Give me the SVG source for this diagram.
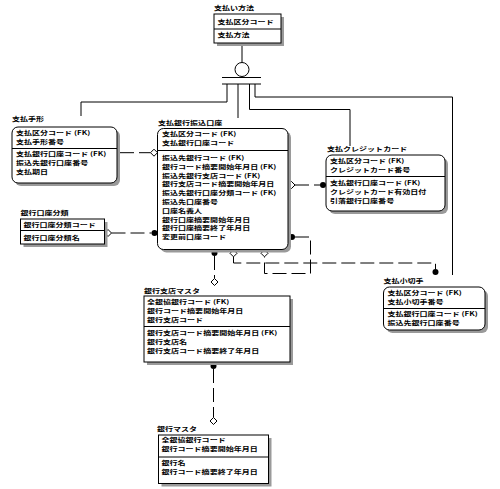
<svg xmlns="http://www.w3.org/2000/svg" width="500" height="489" viewBox="0 0 500 489">
<style>
.t{font-family:"Noto Sans CJK JP","Noto Sans CJK SC",sans-serif;font-size:6px;font-weight:bold;fill:#000;transform-box:fill-box;transform-origin:0 0;transform:scaleX(1.34)}
.bx{fill:#fff;stroke:#000;stroke-width:1}
.sh{fill:#9a9a9a}
.dv{stroke:#000;stroke-width:1}
.ln{fill:none;stroke:#000;stroke-width:1}
.dl{fill:none;stroke:#000;stroke-width:1;stroke-dasharray:14 5}
.dot{fill:#000}
.dia{fill:#fff;stroke:#000;stroke-width:1}
</style>
<rect width="500" height="489" fill="#fff"/>
<g id="connectors">
  <line class="ln" x1="242" y1="43" x2="242" y2="62.5"/>
  <circle class="dia" cx="242" cy="69.5" r="7"/>
  <line class="ln" x1="222" y1="77.5" x2="261" y2="77.5"/>
  <line class="ln" x1="222" y1="84" x2="261" y2="84"/>
  <polyline class="ln" points="227,84 227,102 81,102 81,116"/>
  <line class="ln" x1="238" y1="84" x2="238" y2="118"/>
  <polyline class="ln" points="249.5,84 249.5,109.5 350,109.5 350,146"/>
  <polyline class="ln" points="255,84 255,97 452.5,97 452.5,275"/>

  <line class="dl" x1="120" y1="152.7" x2="150.5" y2="152.7"/>
  <circle class="dot" cx="116.5" cy="152.7" r="3"/>
  <path class="dia" d="M150.5,152.7 L154,149.2 L157.5,152.7 L154,156.2 Z"/>

  <line class="dl" x1="111.5" y1="233" x2="151.5" y2="233"/>
  <path class="dia" d="M104.5,233 L108,229.5 L111.5,233 L108,236.5 Z"/>
  <circle class="dot" cx="154.5" cy="233" r="3"/>

  <line class="dl" x1="295" y1="185" x2="320" y2="185"/>
  <path class="dia" d="M288,185 L291.5,181.5 L295,185 L291.5,188.5 Z"/>
  <circle class="dot" cx="323" cy="185" r="3"/>

  <polyline class="dl" points="295,237 310.5,237 310.5,273.5 264.5,273.5 264.5,257"/>
  <circle class="dot" cx="292" cy="237" r="3"/>
  <path class="dia" d="M261,253.3 L264.5,249.8 L268,253.3 L264.5,256.8 Z"/>

  <polyline class="dl" points="233.5,256.8 233.5,263 435.5,263 435.5,269"/>
  <path class="dia" d="M230,253.3 L233.5,249.8 L237,253.3 L233.5,256.8 Z"/>
  <circle class="dot" cx="435.5" cy="272" r="3"/>

  <line class="dl" x1="214.5" y1="256" x2="214.5" y2="278.5"/>
  <circle class="dot" cx="214.5" cy="253" r="3"/>
  <path class="dia" d="M211,282 L214.5,278.5 L218,282 L214.5,285.5 Z"/>

  <line class="dl" x1="213.5" y1="369" x2="213.5" y2="417.5"/>
  <circle class="dot" cx="213.5" cy="366" r="3"/>
  <path class="dia" d="M210,421 L213.5,417.5 L217,421 L213.5,424.5 Z"/>
</g>

<g id="shiharai-houhou">
  <text class="t" x="214" y="10">支払い方法</text>
  <rect class="sh" x="217" y="17" width="67" height="29"/>
  <rect class="bx" x="214" y="14" width="67" height="29"/>
  <line class="dv" x1="214" y1="29" x2="281" y2="29"/>
  <text class="t" x="217.5" y="24.5">支払区分コード</text>
  <text class="t" x="217.5" y="37.5">支払方法</text>
</g>

<g id="shiharai-tegata">
  <text class="t" x="12" y="121.5">支払手形</text>
  <rect class="sh" x="15" y="130" width="105" height="56" rx="6"/>
  <rect class="bx" x="12" y="127" width="105" height="56" rx="6"/>
  <line class="dv" x1="12" y1="148.5" x2="117" y2="148.5"/>
  <text class="t" x="16" y="135">支払区分コード (FK)</text>
  <text class="t" x="16" y="143.8">支払手形番号</text>
  <text class="t" x="16" y="156.5">支払銀行口座コード (FK)</text>
  <text class="t" x="16" y="165.3">振込先銀行口座番号</text>
  <text class="t" x="16" y="174.1">支払期日</text>
</g>

<g id="shiharai-ginko-furikomi-koza">
  <text class="t" x="158" y="125">支払銀行振込口座</text>
  <rect class="sh" x="160.5" y="131.5" width="130.5" height="121" rx="6"/>
  <rect class="bx" x="157.5" y="128.5" width="130.5" height="121" rx="6"/>
  <line class="dv" x1="157.5" y1="150.5" x2="288" y2="150.5" stroke-width="1.6"/>
  <text class="t" x="162" y="135.8">支払区分コード (FK)</text>
  <text class="t" x="162" y="144.6">支払銀行口座コード</text>
  <text class="t" x="162" y="160">振込先銀行コード (FK)</text>
  <text class="t" x="162" y="168.8">銀行コード摘要開始年月日 (FK)</text>
  <text class="t" x="162" y="177.6">振込先銀行支店コード (FK)</text>
  <text class="t" x="162" y="186.4">銀行支店コード摘要開始年月日</text>
  <text class="t" x="162" y="195.2">振込先銀行口座分類コード (FK)</text>
  <text class="t" x="162" y="204">振込先口座番号</text>
  <text class="t" x="162" y="212.8">口座名義人</text>
  <text class="t" x="162" y="221.6">銀行口座摘要開始年月日</text>
  <text class="t" x="162" y="230.4">銀行口座摘要終了年月日</text>
  <text class="t" x="162" y="239.2">変更前口座コード</text>
</g>

<g id="shiharai-credit-card">
  <text class="t" x="327" y="151.5">支払クレジットカード</text>
  <rect class="sh" x="329" y="158" width="119" height="56" rx="6"/>
  <rect class="bx" x="326" y="155" width="119" height="56" rx="6"/>
  <line class="dv" x1="326" y1="176.5" x2="445" y2="176.5"/>
  <text class="t" x="330" y="163">支払区分コード (FK)</text>
  <text class="t" x="330" y="171.8">クレジットカード番号</text>
  <text class="t" x="330" y="185.5">支払銀行口座コード (FK)</text>
  <text class="t" x="330" y="194.3">クレジットカード有効日付</text>
  <text class="t" x="330" y="203.1">引落銀行口座番号</text>
</g>

<g id="ginko-koza-bunrui">
  <text class="t" x="20.5" y="215">銀行口座分類</text>
  <rect class="sh" x="23.5" y="222" width="84" height="25"/>
  <rect class="bx" x="20.5" y="219" width="84" height="25"/>
  <line class="dv" x1="20.5" y1="230.5" x2="104.5" y2="230.5"/>
  <text class="t" x="23.5" y="227.5">銀行口座分類コード</text>
  <text class="t" x="23.5" y="240.5">銀行口座分類名</text>
</g>

<g id="shiharai-kogitte">
  <text class="t" x="383.5" y="283">支払小切手</text>
  <rect class="sh" x="386.5" y="290" width="101.5" height="43" rx="6"/>
  <rect class="bx" x="383.5" y="287" width="101.5" height="43" rx="6"/>
  <line class="dv" x1="383.5" y1="308.5" x2="485" y2="308.5"/>
  <text class="t" x="387.5" y="295">支払区分コード (FK)</text>
  <text class="t" x="387.5" y="303.8">支払小切手番号</text>
  <text class="t" x="387.5" y="316.5">支払銀行口座コード (FK)</text>
  <text class="t" x="387.5" y="325.3">振込先銀行口座番号</text>
</g>

<g id="ginko-shiten-master">
  <text class="t" x="144" y="293">銀行支店マスタ</text>
  <rect class="sh" x="147" y="299" width="146" height="66"/>
  <rect class="bx" x="144" y="296" width="146" height="66"/>
  <line class="dv" x1="144" y1="326.5" x2="290" y2="326.5"/>
  <text class="t" x="147" y="304">全銀協銀行コード (FK)</text>
  <text class="t" x="147" y="312.8">銀行コード摘要開始年月日</text>
  <text class="t" x="147" y="321.6">銀行支店コード</text>
  <text class="t" x="147" y="335">銀行支店コード摘要開始年月日 (FK)</text>
  <text class="t" x="147" y="343.8">銀行支店名</text>
  <text class="t" x="147" y="352.6">銀行支店コード摘要終了年月日</text>
</g>

<g id="ginko-master">
  <text class="t" x="157" y="431.5">銀行マスタ</text>
  <rect class="sh" x="161.5" y="438" width="110" height="48.5"/>
  <rect class="bx" x="158.5" y="435" width="110" height="48.5"/>
  <line class="dv" x1="158.5" y1="457" x2="268.5" y2="457"/>
  <text class="t" x="161.5" y="442.5">全銀協銀行コード</text>
  <text class="t" x="161.5" y="451.3">銀行コード摘要開始年月日</text>
  <text class="t" x="161.5" y="465.5">銀行名</text>
  <text class="t" x="161.5" y="474.3">銀行コード摘要終了年月日</text>
</g>
</svg>
